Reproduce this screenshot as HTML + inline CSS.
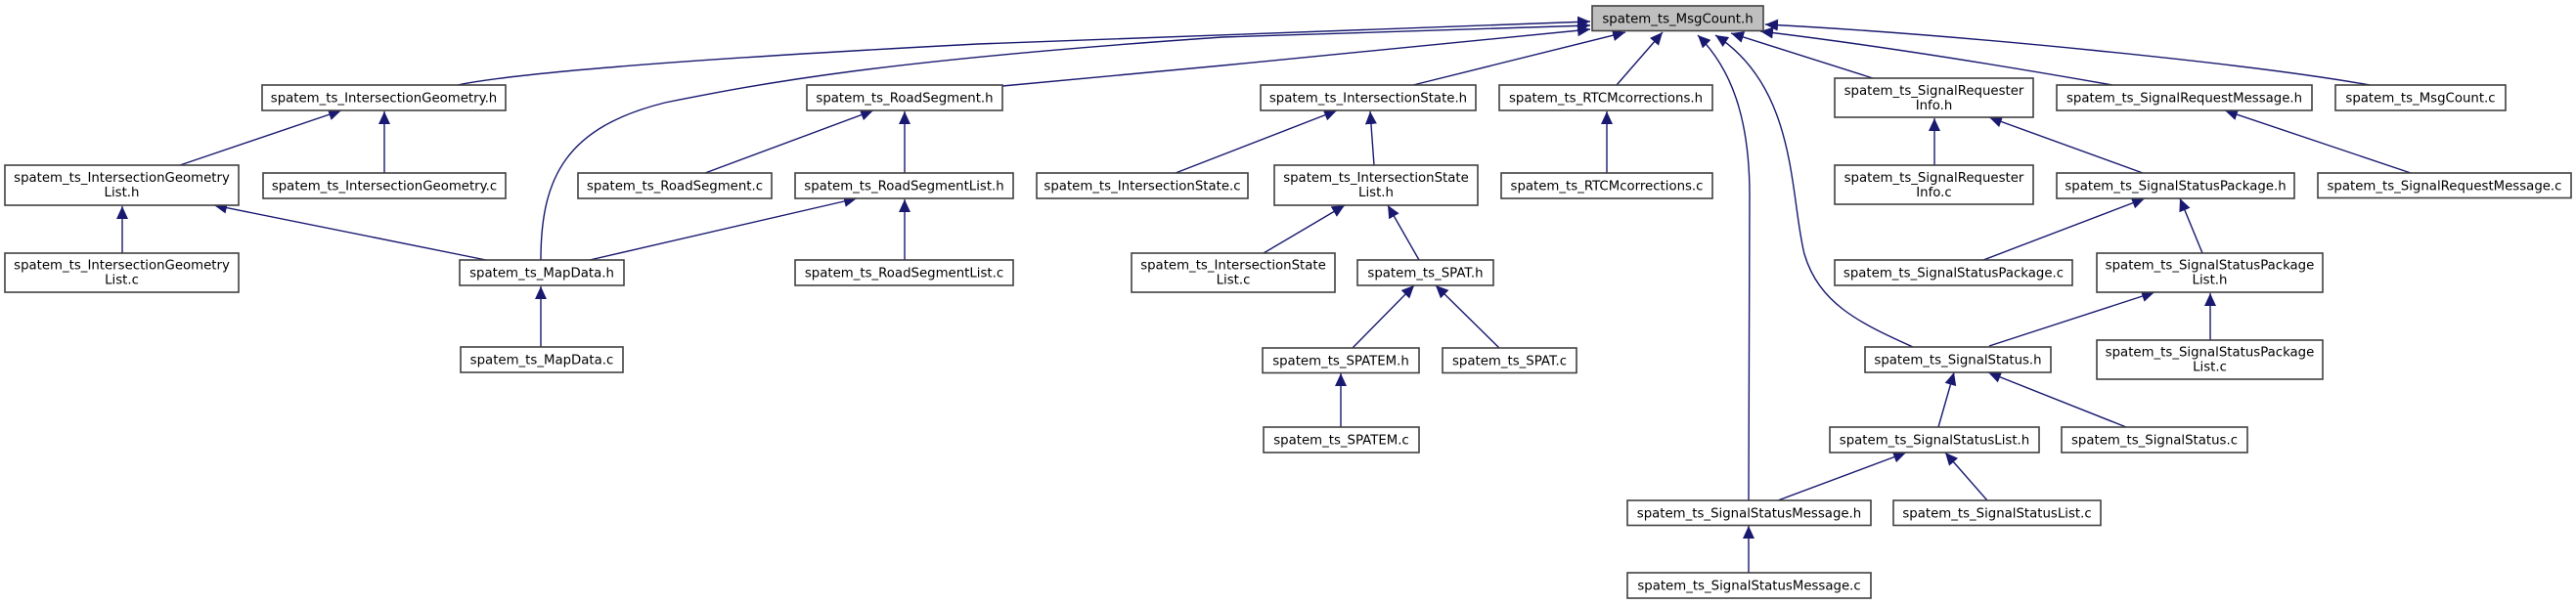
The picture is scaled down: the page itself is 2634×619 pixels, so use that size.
<!DOCTYPE html>
<html><head><meta charset="utf-8"><style>
html,body{margin:0;padding:0;background:#fff;}
svg{display:block;}
text{font-family:"DejaVu Sans","Liberation Sans",sans-serif;font-size:13.3px;fill:#000;}
.b{fill:#fff;stroke:#404040;stroke-width:1.6;}
.e{fill:none;stroke:#191970;stroke-width:1.4;}
</style></head><body>
<svg width="2634" height="619" viewBox="0 0 2634 619" xmlns="http://www.w3.org/2000/svg">
<defs>
<marker id="a" markerUnits="userSpaceOnUse" markerWidth="14" markerHeight="12" refX="13" refY="6" orient="auto">
<path d="M0,0 L13,6 L0,12 z" fill="#191970"/>
</marker>
</defs>
<g class="edges">
<!-- to MsgCount.h -->
<path class="e" marker-end="url(#a)" d="M468,87 Q560,68 1000,45 L1626,22"/>
<path class="e" marker-end="url(#a)" d="M553,266 C553,180 580,130 680,105 C780,85 900,62 1250,38 L1626,26"/>
<path class="e" marker-end="url(#a)" d="M1025,88 L1250,67 L1626,30"/>
<path class="e" marker-end="url(#a)" d="M1445,87 L1662,33"/>
<path class="e" marker-end="url(#a)" d="M1653,87 L1700,33"/>
<path class="e" marker-end="url(#a)" d="M1788,512 L1789,200 C1789,120 1770,70 1736,36"/>
<path class="e" marker-end="url(#a)" d="M1956,355 C1900,330 1860,310 1845,260 C1830,200 1838,90 1754,36"/>
<path class="e" marker-end="url(#a)" d="M1915,80 L1770,34"/>
<path class="e" marker-end="url(#a)" d="M2160,87 Q1950,50 1800,32"/>
<path class="e" marker-end="url(#a)" d="M2423,87 C2300,65 2000,35 1805,25"/>
<!-- others -->
<path class="e" marker-end="url(#a)" d="M184,169 L349,113"/>
<path class="e" marker-end="url(#a)" d="M393,177 L393,114"/>
<path class="e" marker-end="url(#a)" d="M125,259 L125,211"/>
<path class="e" marker-end="url(#a)" d="M497,266 L219,210"/>
<path class="e" marker-end="url(#a)" d="M721,177 L893,113"/>
<path class="e" marker-end="url(#a)" d="M925,177 L925,114"/>
<path class="e" marker-end="url(#a)" d="M603,266 L876,203"/>
<path class="e" marker-end="url(#a)" d="M925,266 L925,204"/>
<path class="e" marker-end="url(#a)" d="M1202,177 L1367,113"/>
<path class="e" marker-end="url(#a)" d="M1405,169 L1401,114"/>
<path class="e" marker-end="url(#a)" d="M1292,259 L1375,210"/>
<path class="e" marker-end="url(#a)" d="M1451,266 L1419,210"/>
<path class="e" marker-end="url(#a)" d="M1643,177 L1643,114"/>
<path class="e" marker-end="url(#a)" d="M1383,356 L1446,292"/>
<path class="e" marker-end="url(#a)" d="M1533,356 L1468,292"/>
<path class="e" marker-end="url(#a)" d="M1371,437 L1371,382"/>
<path class="e" marker-end="url(#a)" d="M553,355 L553,293"/>
<path class="e" marker-end="url(#a)" d="M1978,169 L1978,121"/>
<path class="e" marker-end="url(#a)" d="M2191,177 L2034,120"/>
<path class="e" marker-end="url(#a)" d="M2465,177 L2275,113"/>
<path class="e" marker-end="url(#a)" d="M2028,266 L2193,203"/>
<path class="e" marker-end="url(#a)" d="M2252,259 L2229,203"/>
<path class="e" marker-end="url(#a)" d="M2034,354 L2203,299"/>
<path class="e" marker-end="url(#a)" d="M2260,348 L2260,300"/>
<path class="e" marker-end="url(#a)" d="M1982,437 L1998,381"/>
<path class="e" marker-end="url(#a)" d="M2174,437 L2033,381"/>
<path class="e" marker-end="url(#a)" d="M1818,512 L1949,463"/>
<path class="e" marker-end="url(#a)" d="M2032,512 L1989,463"/>
<path class="e" marker-end="url(#a)" d="M1788,586 L1788,538"/>
</g>
<g class="nodes">
<rect x="1628" y="6" width="175" height="25.5" style="fill:#bfbfbf;stroke:#404040;stroke-width:1.6"/>
<text x="1715.5" y="23.5" text-anchor="middle">spatem_ts_MsgCount.h</text>

<rect class="b" x="268" y="87" width="249" height="26"/><text x="392.5" y="104.5" text-anchor="middle">spatem_ts_IntersectionGeometry.h</text>
<rect class="b" x="825" y="87" width="200" height="26"/><text x="925" y="104.5" text-anchor="middle">spatem_ts_RoadSegment.h</text>
<rect class="b" x="1289" y="87" width="220" height="26"/><text x="1399" y="104.5" text-anchor="middle">spatem_ts_IntersectionState.h</text>
<rect class="b" x="1533" y="87" width="218" height="26"/><text x="1642" y="104.5" text-anchor="middle">spatem_ts_RTCMcorrections.h</text>
<rect class="b" x="1876" y="80" width="203" height="40"/><text x="1977.5" y="97" text-anchor="middle">spatem_ts_SignalRequester</text><text x="1977.5" y="112" text-anchor="middle">Info.h</text>
<rect class="b" x="2103" y="87" width="261" height="26"/><text x="2233.5" y="104.5" text-anchor="middle">spatem_ts_SignalRequestMessage.h</text>
<rect class="b" x="2388" y="87" width="174" height="26"/><text x="2475" y="104.5" text-anchor="middle">spatem_ts_MsgCount.c</text>

<rect class="b" x="5" y="169" width="239" height="41"/><text x="124.5" y="186" text-anchor="middle">spatem_ts_IntersectionGeometry</text><text x="124.5" y="201" text-anchor="middle">List.h</text>
<rect class="b" x="269" y="177" width="248" height="26"/><text x="393" y="194.5" text-anchor="middle">spatem_ts_IntersectionGeometry.c</text>
<rect class="b" x="591" y="177" width="198" height="26"/><text x="690" y="194.5" text-anchor="middle">spatem_ts_RoadSegment.c</text>
<rect class="b" x="813" y="177" width="223" height="26"/><text x="924.5" y="194.5" text-anchor="middle">spatem_ts_RoadSegmentList.h</text>
<rect class="b" x="1060" y="177" width="216" height="26"/><text x="1168" y="194.5" text-anchor="middle">spatem_ts_IntersectionState.c</text>
<rect class="b" x="1303" y="169" width="208" height="41"/><text x="1407" y="186" text-anchor="middle">spatem_ts_IntersectionState</text><text x="1407" y="201" text-anchor="middle">List.h</text>
<rect class="b" x="1535" y="177" width="216" height="26"/><text x="1643" y="194.5" text-anchor="middle">spatem_ts_RTCMcorrections.c</text>
<rect class="b" x="1876" y="169" width="203" height="40"/><text x="1977.5" y="186" text-anchor="middle">spatem_ts_SignalRequester</text><text x="1977.5" y="201" text-anchor="middle">Info.c</text>
<rect class="b" x="2103" y="177" width="243" height="26"/><text x="2224.5" y="194.5" text-anchor="middle">spatem_ts_SignalStatusPackage.h</text>
<rect class="b" x="2370" y="177" width="259" height="25.5"/><text x="2499.5" y="194.5" text-anchor="middle">spatem_ts_SignalRequestMessage.c</text>

<rect class="b" x="5" y="259" width="239" height="40"/><text x="124.5" y="275.5" text-anchor="middle">spatem_ts_IntersectionGeometry</text><text x="124.5" y="290.5" text-anchor="middle">List.c</text>
<rect class="b" x="470" y="266" width="168" height="26"/><text x="554" y="283.5" text-anchor="middle">spatem_ts_MapData.h</text>
<rect class="b" x="813" y="266" width="223" height="26"/><text x="924.5" y="283.5" text-anchor="middle">spatem_ts_RoadSegmentList.c</text>
<rect class="b" x="1157" y="259" width="208" height="40"/><text x="1261" y="275.5" text-anchor="middle">spatem_ts_IntersectionState</text><text x="1261" y="290.5" text-anchor="middle">List.c</text>
<rect class="b" x="1388" y="266" width="139" height="26"/><text x="1457.5" y="283.5" text-anchor="middle">spatem_ts_SPAT.h</text>
<rect class="b" x="1876" y="266" width="243" height="26"/><text x="1997.5" y="283.5" text-anchor="middle">spatem_ts_SignalStatusPackage.c</text>
<rect class="b" x="2144" y="259" width="231" height="40"/><text x="2259.5" y="275.5" text-anchor="middle">spatem_ts_SignalStatusPackage</text><text x="2259.5" y="290.5" text-anchor="middle">List.h</text>

<rect class="b" x="471" y="355" width="166" height="26"/><text x="554" y="372.5" text-anchor="middle">spatem_ts_MapData.c</text>
<rect class="b" x="1291" y="356" width="160" height="25.5"/><text x="1371" y="373.5" text-anchor="middle">spatem_ts_SPATEM.h</text>
<rect class="b" x="1475" y="356" width="137" height="25.5"/><text x="1543.5" y="373.5" text-anchor="middle">spatem_ts_SPAT.c</text>
<rect class="b" x="1907" y="355" width="190" height="26"/><text x="2002" y="372.5" text-anchor="middle">spatem_ts_SignalStatus.h</text>
<rect class="b" x="2144" y="348" width="231" height="40"/><text x="2259.5" y="364.5" text-anchor="middle">spatem_ts_SignalStatusPackage</text><text x="2259.5" y="379.5" text-anchor="middle">List.c</text>

<rect class="b" x="1292" y="437" width="159" height="26"/><text x="1371.5" y="454.5" text-anchor="middle">spatem_ts_SPATEM.c</text>
<rect class="b" x="1871" y="437" width="214" height="26"/><text x="1978" y="454.5" text-anchor="middle">spatem_ts_SignalStatusList.h</text>
<rect class="b" x="2108" y="437" width="190" height="26"/><text x="2203" y="454.5" text-anchor="middle">spatem_ts_SignalStatus.c</text>

<rect class="b" x="1664" y="512" width="249" height="25.5"/><text x="1788.5" y="529.5" text-anchor="middle">spatem_ts_SignalStatusMessage.h</text>
<rect class="b" x="1936" y="512" width="212" height="25.5"/><text x="2042" y="529.5" text-anchor="middle">spatem_ts_SignalStatusList.c</text>

<rect class="b" x="1664" y="586" width="249" height="26"/><text x="1788.5" y="603.5" text-anchor="middle">spatem_ts_SignalStatusMessage.c</text>
</g>
</svg>
</body></html>
